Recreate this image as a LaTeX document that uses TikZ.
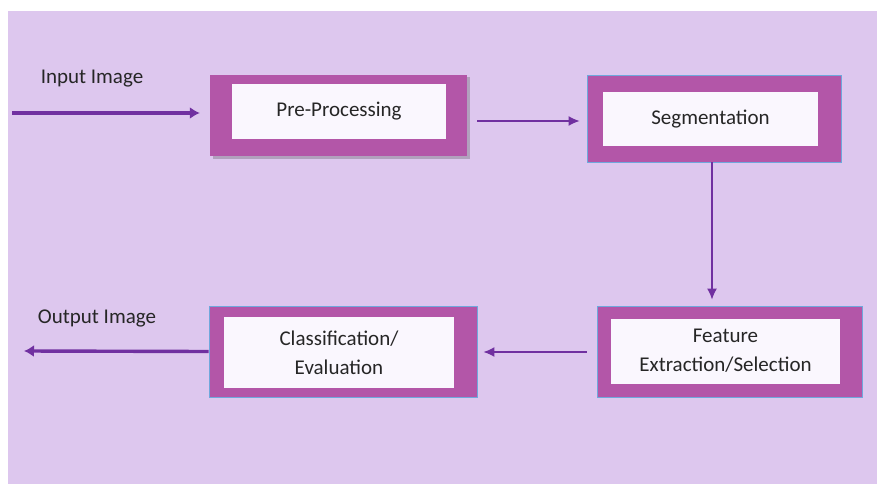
\documentclass[tikz,border=0pt]{standalone}
\usepackage{fontspec}
\setmainfont{Carlito}
\usetikzlibrary{shadows,arrows.meta}
\definecolor{bgc}{HTML}{DDC7EE}
\definecolor{boxc}{HTML}{B356A8}
\definecolor{innerc}{HTML}{FAF7FE}
\definecolor{arrc}{HTML}{7030A0}
\definecolor{bordc}{HTML}{6FA8DC}
\definecolor{txtc}{HTML}{262626}
\tikzset{
  outerbox/.style={rectangle, fill=boxc, inner sep=0pt},
  blueedge/.style={draw=bordc, line width=0.9pt},
  shadowed/.style={drop shadow={shadow xshift=2.5pt, shadow yshift=-2.5pt, opacity=0.3, fill=black!70}},
  innerbox/.style={rectangle, fill=innerc, inner sep=0pt, align=center, text=txtc, font=\fontsize{21}{29}\selectfont},
  lbl/.style={text=txtc, font=\fontsize{21}{27}\selectfont, inner sep=0pt},
  thickarr/.style={draw=arrc, line width=3.4pt, -{Latex[length=10pt,width=12pt]}},
  thinarr/.style={draw=arrc, line width=1.4pt, -{Latex[length=11pt,width=10pt]}}
}
\begin{document}
\begin{tikzpicture}[x=1pt,y=-1pt]
\useasboundingbox (0,0) rectangle (877,484);
\fill[bgc] (8,11) rectangle (877,484);

% Pre-Processing
\node[outerbox, shadowed, minimum width=257pt, minimum height=81pt] (pre) at (338.5,115.5) {};
\node[innerbox, minimum width=214pt, minimum height=55pt] (prei) at (339,111.5) {Pre-Processing};

% Segmentation
\node[outerbox, blueedge, minimum width=254pt, minimum height=87pt] (seg) at (714,118.5) {};
\node[innerbox, minimum width=215pt, minimum height=54pt] (segi) at (710.5,119) {Segmentation};

% Feature
\node[outerbox, blueedge, minimum width=265pt, minimum height=91pt] (feat) at (729.5,351.5) {};
\node[innerbox, minimum width=229pt, minimum height=65pt] (feati) at (725.5,351) {Feature\\Extraction/Selection};

% Classification
\node[outerbox, blueedge, minimum width=268pt, minimum height=91pt] (cls) at (343,351.5) {};
\node[innerbox, minimum width=230pt, minimum height=71pt] (clsi) at (339,352.5) {Classification/\\Evaluation};

% labels
\node[lbl] (inlbl) at (92,79) {Input Image};
\node[lbl] (outlbl) at (97,318) {Output Image};

% connectors
\coordinate (instart) at (12,113);
\coordinate (outend) at (24,351);
\draw[thickarr] (instart) -- ([shift={(-10,-2.5)}]pre.west);
\draw[thinarr] ([shift={(10,5.5)}]pre.east) -- ([shift={(-7,2.5)}]seg.west);
\draw[thinarr] ([shift={(-2,0)}]seg.south) -- ([shift={(-17.5,-6)}]feat.north);
\draw[thinarr] ([shift={(-10,0.5)}]feat.west) -- ([shift={(6,0.5)}]cls.east);
\draw[thickarr] (cls.west) -- (outend);
\end{tikzpicture}
\end{document}
